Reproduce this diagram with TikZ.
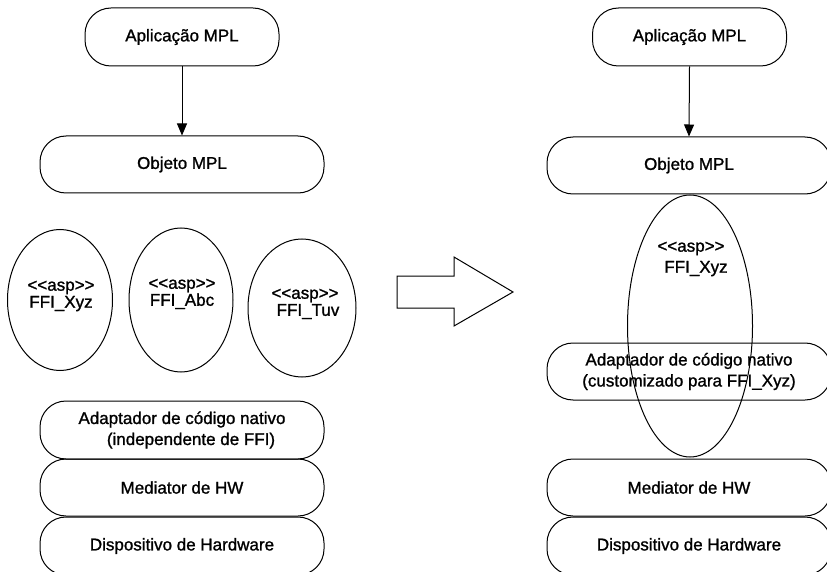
\documentclass[tikz,border=0pt]{standalone}
\usepackage{fontspec}
\setmainfont[FakeBold=1.2,AutoFakeBold=1.2]{Liberation Sans}
\usetikzlibrary{arrows.meta,shapes.geometric}

\tikzset{
  layer/.style={draw=black, line width=1pt, rounded corners=26pt,
    minimum width=284pt, inner sep=0pt, align=center,
    font=\fontsize{17}{21}\selectfont\bfseries},
  pill/.style={layer, minimum width=194pt, minimum height=58pt},
  aspect/.style={draw=black, line width=1pt, ellipse, inner sep=0pt},
  asptext/.style={align=center, inner sep=0pt, font=\fontsize{17}{17}\selectfont\bfseries},
  flow/.style={draw=black, line width=1pt, -{Triangle[length=12pt,width=10pt]}},
  swap/.style={draw=black, line width=1pt, line join=miter, fill=white}
}

\begin{document}
\begin{tikzpicture}[x=1pt, y=-1pt]
  \useasboundingbox (0,0) rectangle (827,572);
  \clip (0,0) rectangle (827,572);

  % ---- architecture with independent aspects ----
  \node[pill] (appL) at (182,37) {Aplicação MPL};
  \node[layer, minimum height=57pt] (objL) at (182,164.5) {Objeto MPL};

  \node[aspect, minimum width=105pt, minimum height=141pt] (xyzL) at (60,300) {};
  \node[asptext] (xyzLt) at (61,296) {<{}<asp>{}>\\FFI\_Xyz};
  \node[aspect, minimum width=104pt, minimum height=144pt] (abcL) at (181,300) {};
  \node[asptext] (abcLt) at (182,294) {<{}<asp>{}>\\FFI\_Abc};
  \node[aspect, minimum width=108pt, minimum height=138pt] (tuvL) at (302,308) {};
  \node[asptext] (tuvLt) at (305,304) {<{}<asp>{}>\\\hspace*{6pt}FFI\_Tuv};

  \node[layer, minimum height=58pt] (adaL) at (182,430)
    {Adaptador de código nativo\\\hspace*{18pt}(independente de FFI)};
  \node[layer, minimum height=57pt] (medL) at (182,487.5) {Mediator de HW};
  \node[layer, minimum height=58pt] (devL) at (182,546) {Dispositivo de Hardware};

  \draw[flow] (appL.south) -- (objL.north);

  % ---- transition ----
  \draw[swap] (397,276) -- (454,276) -- (454,257) -- (513,292)
    -- (454,326) -- (454,308) -- (397,308) -- cycle;

  % ---- architecture with a customised adapter ----
  \node[pill] (appR) at (689.5,37) {Aplicação MPL};
  \node[layer, minimum height=57pt] (objR) at (689,165.5) {Objeto MPL};

  \node[aspect, minimum width=125pt, minimum height=262pt] (xyzR) at (690,326) {};
  \node[asptext, font=\fontsize{17}{21}\selectfont\bfseries] (xyzRt) at (691,259)
    {<{}<asp>{}>\\\hspace*{10pt}FFI\_Xyz};

  \node[layer, minimum height=57pt] (adaR) at (689,371.5)
    {Adaptador de código nativo\\(customizado para FFI\_Xyz)};
  \node[layer, minimum height=57pt] (medR) at (689,487.5) {Mediator de HW};
  \node[layer, minimum height=58pt] (devR) at (689,546) {Dispositivo de Hardware};

  \draw[flow] (appR.south) -- (objR.north);
\end{tikzpicture}
\end{document}
